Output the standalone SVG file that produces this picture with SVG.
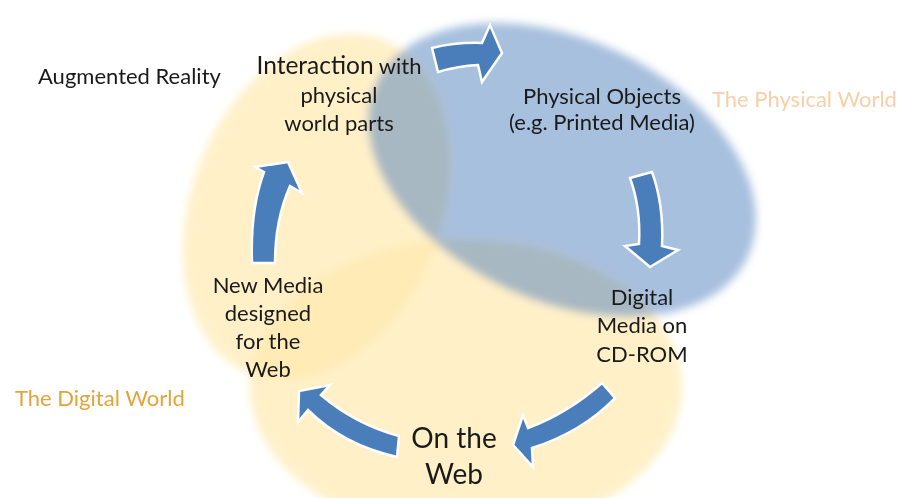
<svg xmlns="http://www.w3.org/2000/svg" width="910" height="498" viewBox="0 0 910 498">
  <defs>
    <filter id="soft" x="-10%" y="-10%" width="120%" height="120%">
      <feGaussianBlur stdDeviation="4"/>
    </filter>
  </defs>
  <style>
    .lbl { font-family: Lato, "Open Sans", "Liberation Sans", sans-serif; fill: #1a1a1a; font-size: 22px; }
    .big { font-size: 28px; }
    .mid { text-anchor: middle; }
    .yel { fill: #ffe8aa; fill-opacity: 0.65; }
    .blu { fill: #4f81bd; fill-opacity: 0.5; }
    .arrow { fill: #4a7ebb; stroke: #ffffff; stroke-width: 2.5; stroke-linejoin: miter; }
  </style>
  <rect width="910" height="498" fill="#ffffff"/>

  <g id="worlds" filter="url(#soft)">
    <ellipse id="world-ar" class="yel" cx="317" cy="207" rx="125" ry="180" transform="rotate(22 317 207)"/>
    <ellipse id="world-digital" class="yel" cx="466" cy="387" rx="216" ry="148"/>
    <ellipse id="world-physical" class="blu" cx="562" cy="170" rx="205" ry="131" transform="rotate(25 562 170)"/>
  </g>

  <g id="connectors">
    <path class="arrow" d="M432,48 Q457,42 482,43 L490,25 L502,53 L482,82 L478,65 Q458,66 438,72 Z"/>
    <path class="arrow" d="M630,178 L652,172 Q664,205 662,246 L678,250 L650,267 L625,246 L639,244 Q641,208 630,178 Z"/>
    <path class="arrow" d="M602,383 Q568,413 528,428 L523,415 L513,445 L533,467 L532,448 Q582,432 615,398 Z"/>
    <path class="arrow" d="M399,436 Q355,424 321,395 L330,385 L299,391 L298,422 L308,410 Q343,445 397,457 Z"/>
    <path class="arrow" d="M252,263 Q250,210 264,172 L255,167 L288,162 L302,193 L290,186 Q275,220 275,263 Z"/>
  </g>

  <g id="augmented-reality">
    <text class="lbl" x="38" y="84">Augmented Reality</text>
  </g>
  <g id="interaction">
    <text class="lbl mid" x="339" y="74"><tspan style="font-size:24.5px">Interaction</tspan> with</text>
    <text class="lbl mid" x="339" y="103">physical</text>
    <text class="lbl mid" x="339" y="131">world parts</text>
  </g>
  <g id="physical-objects">
    <text class="lbl mid" x="602" y="104">Physical Objects</text>
    <text class="lbl mid" x="602" y="130">(e.g. Printed Media)</text>
  </g>
  <g id="physical-world-label">
    <text class="lbl" x="712" y="107" style="fill:#f8cfa8">The Physical World</text>
  </g>
  <g id="digital-media">
    <text class="lbl mid" x="642" y="305">Digital</text>
    <text class="lbl mid" x="642" y="333">Media on</text>
    <text class="lbl mid" x="642" y="362">CD-ROM</text>
  </g>
  <g id="new-media">
    <text class="lbl mid" x="268" y="293">New Media</text>
    <text class="lbl mid" x="268" y="321">designed</text>
    <text class="lbl mid" x="268" y="349">for the</text>
    <text class="lbl mid" x="268" y="377">Web</text>
  </g>
  <g id="digital-world-label">
    <text class="lbl" x="15" y="406" style="fill:#e2a43a">The Digital World</text>
  </g>
  <g id="on-the-web">
    <text class="lbl big mid" x="454" y="448">On the</text>
    <text class="lbl big mid" x="454" y="484">Web</text>
  </g>
</svg>
